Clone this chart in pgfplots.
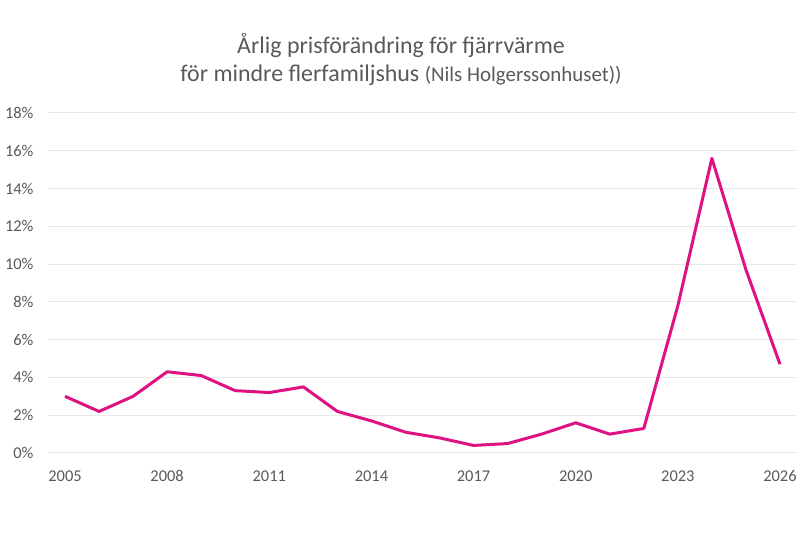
\documentclass[border=0pt]{standalone}
\usepackage{fontspec}
\setmainfont{Carlito}
\usepackage{pgfplots}
\pgfplotsset{compat=1.18}
\definecolor{linec}{RGB}{222,18,130}
\definecolor{txt}{RGB}{89,89,89}
\definecolor{gridc}{RGB}{232,232,232}
\begin{document}
\begin{tikzpicture}[x=1bp,y=1bp]
\begin{axis}[
  at={(0,0)}, anchor=south west,
  scale only axis, width=749bp, height=340bp,
  xmin=2004.5, xmax=2026.5, ymin=0, ymax=18,
  xtick={2005,2008,...,2026}, ytick={0,2,...,18},
  ymajorgrids, grid style={gridc, line width=1bp},
  axis line style={draw=none},
  major tick length=0pt,
  tick label style={font=\fontsize{16.5}{18}\selectfont, text=txt},
  /pgf/number format/assume math mode=true,
  x tick label style={/pgf/number format/1000 sep={}, yshift=-14bp},
  yticklabel={\pgfmathprintnumber{\tick}\%},
  y tick label style={xshift=-11bp},
  clip=false,
]
\addplot[linec, line width=3bp, line join=round] coordinates {
(2005,3.0) (2006,2.2) (2007,3.0) (2008,4.3) (2009,4.1) (2010,3.3) (2011,3.2)
(2012,3.5) (2013,2.2) (2014,1.7) (2015,1.1) (2016,0.8) (2017,0.4) (2018,0.5)
(2019,1.0) (2020,1.6) (2021,1.0) (2022,1.3) (2023,7.8) (2024,15.6) (2025,9.7)
(2026,4.7)};
\end{axis}
\path (-48,-80) rectangle (752,453);
\node[text=txt, font=\fontsize{24}{27}\selectfont] at (353,408) {Årlig prisförändring för fjärrvärme};
\node[text=txt, font=\fontsize{24}{27}\selectfont] at (353,378) {för mindre flerfamiljshus {\fontsize{21}{24}\selectfont(Nils Holgerssonhuset))}};
\end{tikzpicture}
\end{document}
